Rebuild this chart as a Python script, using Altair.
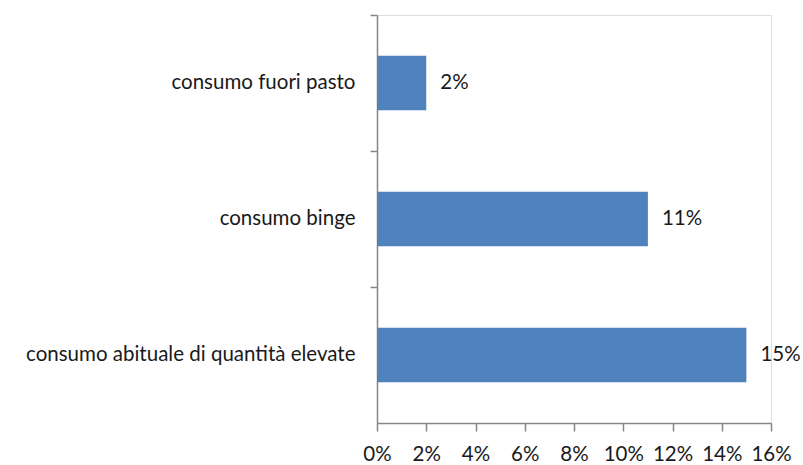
import altair as alt
import pandas as pd

categories = ["consumo fuori pasto", "consumo binge", "consumo abituale di quantità elevate"]
values = [0.02, 0.11, 0.15]
labels = ["2%", "11%", "15%"]
x_ticks = [0, 0.02, 0.04, 0.06, 0.08, 0.10, 0.12, 0.14, 0.16]

df = pd.DataFrame({"cat": categories, "val": values, "lab": labels})

FONT = "Lato"
FS = 20.5
AXIS_COLOR = "#868686"

y = alt.Y("cat:N", sort=categories, title=None,
          scale=alt.Scale(paddingInner=0, paddingOuter=0),
          axis=alt.Axis(bandPosition=0, domainColor=AXIS_COLOR, tickColor=AXIS_COLOR,
                        tickSize=7, labelPadding=15, labelFontSize=FS, labelFont=FONT,
                        labelLimit=0, labelColor="#1a1a1a", domainWidth=1.5, tickWidth=1.5))
x = alt.X("val:Q", title=None,
          scale=alt.Scale(domain=[0, 0.16], nice=False),
          axis=alt.Axis(values=x_ticks, format=".0%", grid=False, domainColor=AXIS_COLOR,
                        tickColor=AXIS_COLOR, tickSize=8, labelPadding=13, labelFontSize=FS,
                        labelFont=FONT, labelFlush=False, labelColor="#1a1a1a",
                        domainWidth=1.5, tickWidth=1.5))

bars = alt.Chart(df).mark_bar(color="#4F81BD", height={"band": 0.4}).encode(x=x, y=y)
text = alt.Chart(df).mark_text(align="left", dx=14, fontSize=FS, font=FONT, color="#1a1a1a").encode(
    x="val:Q", y=alt.Y("cat:N", sort=categories), text="lab:N")

chart = (bars + text).properties(
    width=394, height=408, autosize="none",
    padding={"left": 377, "top": 15, "right": 32, "bottom": 42},
).configure_view(stroke=None).configure(background="white")

chart.save("out.html", embed_options={"renderer": "svg", "actions": False})
